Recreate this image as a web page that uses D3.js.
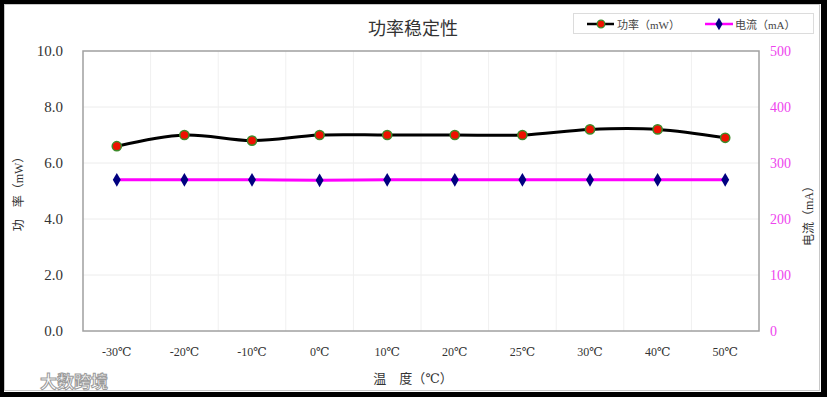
<!DOCTYPE html>
<html><head><meta charset="utf-8">
<script src="https://cdn.jsdelivr.net/npm/d3@7"></script>
<style>
html,body{margin:0;padding:0;background:#000;}
svg{display:block;}
text{font-family:"Liberation Serif","DejaVu Serif","Noto Sans CJK SC",serif;}
</style></head>
<body>
<svg id="chart" width="827" height="397"></svg>
<script>
const categories = ["-30℃","-20℃","-10℃","0℃","10℃","20℃","25℃","30℃","40℃","50℃"];
const powerValues = [6.6, 7.0, 6.8, 7.0, 7.0, 7.0, 7.0, 7.2, 7.2, 6.9];
const currentValues = [270, 270, 270, 269, 270, 270, 270, 270, 270, 270];
const leftTicks = [0, 2, 4, 6, 8, 10];
const rightTicks = [0, 100, 200, 300, 400, 500];
const titleText = "功率稳定性";
const xTitle = "温　度（℃）";
const yLeftTitle = "功　率（mW）";
const yRightTitle = "电流（mA）";
const legendLabels = ["功率（mW）", "电流（mA）"];

const svg = d3.select("#chart");
const W = 827, H = 397;
svg.append("rect").attr("x",0).attr("y",0).attr("width",W).attr("height",H).attr("fill","#000");
svg.append("rect").attr("x",4).attr("y",4).attr("width",817).attr("height",388).attr("fill","#fff");
svg.append("rect").attr("x",4.5).attr("y",4.5).attr("width",815).attr("height",386).attr("fill","none").attr("stroke","#c8c8c8").attr("stroke-width",1);

const m = {l:83, r:759, t:51, b:331};
const x = d3.scaleBand().domain(categories).range([m.l, m.r]).padding(0);
const yL = d3.scaleLinear().domain([0,10]).range([m.b, m.t]);
const yR = d3.scaleLinear().domain([0,500]).range([m.b, m.t]);

// gridlines
const g = svg.append("g");
g.selectAll("line.hg").data(leftTicks.slice(1,-1)).join("line")
  .attr("x1",m.l).attr("x2",m.r).attr("y1",d=>yL(d)).attr("y2",d=>yL(d))
  .attr("stroke","#ececec").attr("stroke-width",1);
g.selectAll("line.vg").data(categories.slice(1)).join("line")
  .attr("x1",d=>x(d)).attr("x2",d=>x(d)).attr("y1",m.t).attr("y2",m.b)
  .attr("stroke","#f0f0f0").attr("stroke-width",1);

// plot border
svg.append("rect").attr("x",m.l).attr("y",m.t).attr("width",m.r-m.l).attr("height",m.b-m.t)
  .attr("fill","none").attr("stroke","#a0a0a0").attr("stroke-width",1.5);

// left axis
const axL = svg.append("g").attr("transform",`translate(${m.l},0)`)
  .call(d3.axisLeft(yL).tickValues(leftTicks).tickSize(0).tickPadding(20).tickFormat(d3.format(".1f")));
axL.select(".domain").remove();
axL.selectAll("text").attr("font-size",15).attr("fill","#333");

// right axis
const axR = svg.append("g").attr("transform",`translate(${m.r},0)`)
  .call(d3.axisRight(yR).tickValues(rightTicks).tickSize(0).tickPadding(11).tickFormat(d3.format("d")));
axR.select(".domain").remove();
axR.selectAll("text").attr("font-size",14).attr("fill","#ee44ee");

// x axis
const axX = svg.append("g").attr("transform",`translate(0,${m.b})`)
  .call(d3.axisBottom(x).tickSize(0).tickPadding(16));
axX.select(".domain").remove();
axX.selectAll("text").attr("font-size",12).attr("fill","#333");

// lines
const xc = d => x(d) + x.bandwidth()/2;
const powerData = categories.map((c,i)=>({c, v:powerValues[i]}));
const currentData = categories.map((c,i)=>({c, v:currentValues[i]}));

svg.append("path").datum(currentData)
  .attr("d", d3.line().x(d=>xc(d.c)).y(d=>yR(d.v)).curve(d3.curveCatmullRom.alpha(0)))
  .attr("fill","none").attr("stroke","#ff00ff").attr("stroke-width",3);
svg.append("path").datum(powerData)
  .attr("d", d3.line().x(d=>xc(d.c)).y(d=>yL(d.v)).curve(d3.curveCatmullRom.alpha(0)))
  .attr("fill","none").attr("stroke","#000").attr("stroke-width",3);

const diamond = d3.symbol().type(d3.symbolDiamond).size(55);
svg.selectAll("path.cm").data(currentData).join("path")
  .attr("transform",d=>`translate(${xc(d.c)},${yR(d.v)})`)
  .attr("d",diamond).attr("fill","#000080");
svg.selectAll("circle.pm").data(powerData).join("circle")
  .attr("cx",d=>xc(d.c)).attr("cy",d=>yL(d.v)).attr("r",4.6)
  .attr("fill","#ee1100").attr("stroke","#3d8a2a").attr("stroke-width",1.5);

// title
svg.append("text").attr("x",413).attr("y",35).attr("text-anchor","middle")
  .attr("font-size",18).attr("fill","#333").text(titleText);

// axis titles
svg.append("text").attr("x",413).attr("y",383).attr("text-anchor","middle")
  .attr("font-size",13).attr("fill","#333").text(xTitle);
svg.append("text").attr("transform","translate(23,191) rotate(-90)").attr("text-anchor","middle")
  .attr("font-size",12).attr("fill","#333").text(yLeftTitle);
svg.append("text").attr("transform","translate(813,213) rotate(-90)").attr("text-anchor","middle")
  .attr("font-size",12).attr("fill","#333").text(yRightTitle);

// legend
const lg = svg.append("g");
lg.append("rect").attr("x",573.5).attr("y",13.5).attr("width",240).attr("height",20)
  .attr("fill","#fff").attr("stroke","#dcdcdc");
lg.append("line").attr("x1",587).attr("x2",614).attr("y1",24).attr("y2",24).attr("stroke","#000").attr("stroke-width",2.5);
lg.append("circle").attr("cx",601).attr("cy",24).attr("r",3.8).attr("fill","#ee1100").attr("stroke","#3d8a2a").attr("stroke-width",1.3);
lg.append("text").attr("x",617).attr("y",28.5).attr("font-size",11).attr("fill","#444").text(legendLabels[0]);
lg.append("line").attr("x1",705).attr("x2",733).attr("y1",24).attr("y2",24).attr("stroke","#ff00ff").attr("stroke-width",2.5);
lg.append("path").attr("transform","translate(719,24)").attr("d",d3.symbol().type(d3.symbolDiamond).size(45)).attr("fill","#000080");
lg.append("text").attr("x",735).attr("y",28.5).attr("font-size",11).attr("fill","#444").text(legendLabels[1]);

// watermark
svg.append("text").attr("x",40).attr("y",388).attr("font-size",17).attr("font-weight","bold")
  .attr("fill","#fff").attr("stroke","#9a9a9a").attr("stroke-width",1)
  .attr("font-family","Noto Sans CJK SC").text("大数跨境");
</script>
</body></html>
